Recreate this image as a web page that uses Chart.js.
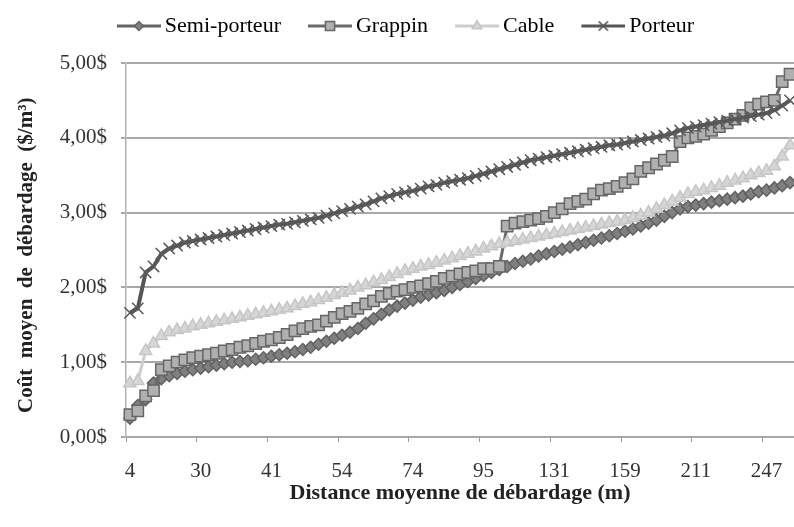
<!DOCTYPE html>
<html lang="fr">
<head>
<meta charset="utf-8">
<script src="https://cdn.jsdelivr.net/npm/chart.js@4.4.1/dist/chart.umd.min.js"></script>
<style>
  html, body { margin: 0; padding: 0; background: #fff; }
  #wrap { width: 794px; height: 527px; }
</style>
</head>
<body>
<div id="wrap"><canvas id="grafico" width="794" height="527"></canvas></div>
<script>
// ==========================================
// DONNÉES
// ==========================================
// étiquettes visibles de l'axe des x (une toutes les 9 catégories)
const etiquetasEje = ['4', '30', '41', '54', '74', '95', '131', '159', '211', '247'];
const pasoEtiqueta = 9;

const semiPorteur = [
  0.25, 0.42, 0.50, 0.72, 0.78, 0.82, 0.85, 0.88, 0.90, 0.92,
  0.94, 0.96, 0.98, 1.00, 1.01, 1.02, 1.04, 1.06, 1.08, 1.10,
  1.12, 1.14, 1.17, 1.20, 1.24, 1.28, 1.32, 1.36, 1.40, 1.45,
  1.52, 1.58, 1.64, 1.70, 1.75, 1.79, 1.83, 1.87, 1.90, 1.93,
  1.96, 2.00, 2.04, 2.08, 2.12, 2.16, 2.20, 2.24, 2.28, 2.32,
  2.35, 2.38, 2.42, 2.45, 2.48, 2.51, 2.54, 2.57, 2.60, 2.63,
  2.66, 2.69, 2.72, 2.75, 2.78, 2.82, 2.86, 2.90, 2.95, 3.00,
  3.05, 3.08, 3.10, 3.12, 3.14, 3.16, 3.18, 3.20, 3.22, 3.25,
  3.28, 3.30, 3.33, 3.36, 3.40
];

const grappin = [
  0.30, 0.35, 0.55, 0.62, 0.90, 0.95, 1.00, 1.03, 1.06, 1.08,
  1.10, 1.12, 1.15, 1.17, 1.20, 1.22, 1.25, 1.28, 1.30, 1.33,
  1.37, 1.42, 1.45, 1.48, 1.50, 1.55, 1.60, 1.65, 1.68, 1.72,
  1.78, 1.82, 1.88, 1.92, 1.95, 1.97, 2.00, 2.02, 2.05, 2.08,
  2.12, 2.15, 2.18, 2.20, 2.22, 2.25, 2.25, 2.28, 2.82, 2.86,
  2.88, 2.90, 2.92, 2.95, 3.00, 3.05, 3.12, 3.15, 3.18, 3.25,
  3.30, 3.32, 3.35, 3.40, 3.45, 3.55, 3.60, 3.65, 3.70, 3.75,
  3.95, 4.00, 4.02, 4.05, 4.10, 4.15, 4.20, 4.25, 4.30, 4.40,
  4.45, 4.48, 4.50, 4.75, 4.85
];

const cable = [
  0.72, 0.75, 1.15, 1.25, 1.35, 1.40, 1.43, 1.45, 1.48, 1.50,
  1.52, 1.54, 1.56, 1.58, 1.60, 1.62, 1.64, 1.66, 1.68, 1.70,
  1.72, 1.75, 1.78, 1.80, 1.83, 1.86, 1.90, 1.93, 1.96, 2.00,
  2.03, 2.07, 2.10, 2.14, 2.18, 2.22, 2.25, 2.28, 2.30, 2.33,
  2.36, 2.39, 2.42, 2.45, 2.48, 2.52, 2.55, 2.58, 2.60, 2.62,
  2.64, 2.66, 2.68, 2.70, 2.72, 2.74, 2.76, 2.78, 2.80, 2.82,
  2.84, 2.86, 2.88, 2.90, 2.93, 2.96, 3.00, 3.05, 3.10, 3.15,
  3.20, 3.25, 3.28, 3.30, 3.33, 3.36, 3.40, 3.43, 3.46, 3.50,
  3.53, 3.56, 3.62, 3.75, 3.90
];

const porteur = [
  1.66, 1.72, 2.20, 2.28, 2.45, 2.52, 2.56, 2.60, 2.62, 2.64,
  2.66, 2.68, 2.70, 2.72, 2.74, 2.76, 2.78, 2.80, 2.82, 2.84,
  2.85, 2.87, 2.89, 2.91, 2.93, 2.96, 2.99, 3.02, 3.05, 3.08,
  3.11, 3.15, 3.19, 3.22, 3.25, 3.27, 3.29, 3.32, 3.35, 3.37,
  3.40, 3.42, 3.44, 3.46, 3.49, 3.52, 3.55, 3.58, 3.61, 3.64,
  3.67, 3.70, 3.72, 3.74, 3.76, 3.78, 3.80, 3.82, 3.84, 3.86,
  3.88, 3.90, 3.91, 3.93, 3.95, 3.97, 3.99, 4.01, 4.03, 4.06,
  4.10, 4.13, 4.15, 4.17, 4.19, 4.21, 4.23, 4.25, 4.27, 4.29,
  4.31, 4.33, 4.37, 4.43, 4.50
];

// catégories : une par observation, seule une sur 9 porte une étiquette
const categorias = porteur.map((_, i) => (i % pasoEtiqueta === 0 ? etiquetasEje[i / pasoEtiqueta] : ''));

// ==========================================
// STYLES
// ==========================================
const FUENTE = 'Liberation Serif';
const estilos = [
  { label: 'Semi-porteur', data: semiPorteur, linea: '#656565', relleno: '#808080', borde: '#616161', forma: 'rectRot', radio: 6, ancho: 4, orden: 4 },
  { label: 'Grappin',      data: grappin,     linea: '#6a6a6a', relleno: '#b0b0b0', borde: '#666666', forma: 'rect',    radio: 8, ancho: 3, orden: 3 },
  { label: 'Cable',        data: cable,       linea: '#cdcdcd', relleno: '#d6d6d6', borde: '#c6c6c6', forma: 'triangle', radio: 7, ancho: 3, orden: 2 },
  { label: 'Porteur',      data: porteur,     linea: '#565656', relleno: '#5a5a5a', borde: '#595959', forma: 'crossRot', radio: 8, ancho: 4, orden: 1 }
];

// vignette de légende : espace vide à gauche, puis trait + marqueur
function vignette(e) {
  const c = document.createElement('canvas');
  c.width = 68; c.height = 16;
  const ctx = c.getContext('2d');
  ctx.strokeStyle = e.linea;
  ctx.lineWidth = 3;
  ctx.beginPath(); ctx.moveTo(24, 8); ctx.lineTo(68, 8); ctx.stroke();
  ctx.fillStyle = e.relleno;
  ctx.strokeStyle = e.borde;
  ctx.lineWidth = 1.5;
  Chart.helpers.drawPoint(ctx, { pointStyle: e.forma, radius: e.radio - 1.5, rotation: 0, borderWidth: 1.5 }, 46, 8);
  return c;
}

const PAD_TOP = 5;
const PLOT_TOP = 63;

// hauteur fixe pour la légende -> zone de tracé à y = 63
const margeLegende = {
  id: 'margeLegende',
  beforeInit(chart) {
    const fitOrig = chart.legend.fit;
    chart.legend.fit = function () {
      fitOrig.bind(chart.legend)();
      this.height = PLOT_TOP - PAD_TOP;
    };
  }
};

new Chart(document.getElementById('grafico').getContext('2d'), {
  type: 'line',
  data: {
    labels: categorias,
    datasets: estilos.map(e => ({
      label: e.label,
      data: e.data,
      order: e.orden,
      borderColor: e.linea,
      borderWidth: e.ancho,
      tension: 0,
      pointStyle: e.forma,
      pointRadius: e.radio,
      pointBackgroundColor: e.relleno,
      pointBorderColor: e.borde,
      pointBorderWidth: 1.5,
      fill: false
    }))
  },
  options: {
    responsive: false,
    animation: false,
    devicePixelRatio: 1,
    layout: { autoPadding: false, padding: { top: PAD_TOP, left: 0, right: 0, bottom: 0 } },
    plugins: {
      tooltip: { enabled: false },
      legend: {
        position: 'top',
        labels: {
          usePointStyle: true,
          pointStyleWidth: 54,
          padding: 10,
          color: '#404040',
          font: { family: FUENTE, size: 22 },
          generateLabels: () => estilos.map((e, i) => ({
            text: e.label,
            pointStyle: vignette(e),
            fillStyle: e.relleno,
            strokeStyle: e.borde,
            lineWidth: 0,
            datasetIndex: i,
            hidden: false
          }))
        }
      }
    },
    scales: {
      x: {
        type: 'category',
        offset: true,
        grid: {
          offset: true,
          drawOnChartArea: false,
          drawTicks: true,
          tickLength: 5,
          tickWidth: 1,
          tickColor: c => (c.index % pasoEtiqueta === 0 ? '#9a9a9a' : 'rgba(0,0,0,0)')
        },
        border: { color: '#a8a8a8', width: 2 },
        ticks: {
          autoSkip: false,
          maxRotation: 0,
          minRotation: 0,
          padding: 0,
          color: '#333',
          // grande hauteur de ligne = étiquettes plus bas sans marge à droite
          font: { family: FUENTE, size: 21, lineHeight: 2.8 },
          callback: (v, i) => categorias[i]
        },
        title: {
          display: true,
          text: 'Distance moyenne de débardage (m)',
          color: '#222',
          font: { family: FUENTE, size: 22, weight: 'bold' },
          padding: { top: 0, bottom: 20 }
        },
        afterFit: s => { s.height = 90; }
      },
      y: {
        min: 0,
        max: 5,
        ticks: {
          stepSize: 1,
          padding: 14,
          color: '#333',
          font: { family: FUENTE, size: 21 },
          callback: v => v.toFixed(2).replace('.', ',') + '$'
        },
        grid: { color: '#a8a8a8', lineWidth: 2, tickLength: 5, drawTicks: true },
        border: { color: '#b4b4b4', width: 1.5 },
        title: {
          display: true,
          text: 'Coût\u2002moyen\u2002de\u2002débardage\u2002($/m³)\u2002',
          color: '#222',
          font: { family: FUENTE, size: 21, weight: 'bold' },
          padding: { top: 14, bottom: 0 }
        },
        afterFit: s => { s.width = 126; }
      }
    }
  },
  plugins: [margeLegende]
});
</script>
</body>
</html>
